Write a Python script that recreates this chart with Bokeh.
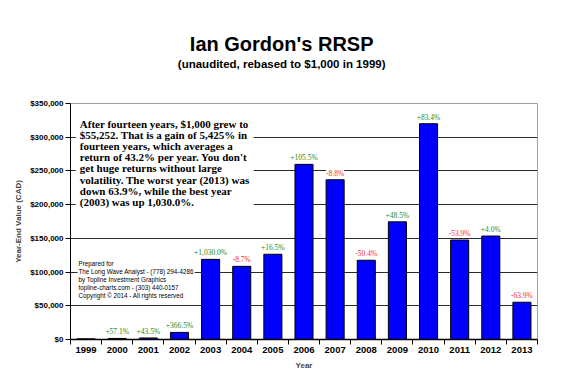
from bokeh.plotting import figure
from bokeh.layouts import column
from bokeh.models import (ColumnDataSource, FixedTicker, NumeralTickFormatter, Label,
                          LabelSet, Range1d)
from bokeh.core.properties import value
from bokeh.embed import file_html
from bokeh.resources import INLINE

# ---- data ----
years = ["1999", "2000", "2001", "2002", "2003", "2004", "2005", "2006",
         "2007", "2008", "2009", "2010", "2011", "2012", "2013"]
values = [1000, 1571, 2254, 10516, 118830, 108492, 126393, 259738,
          236881, 117493, 174477, 319991, 147516, 153416, 55252]
pct_labels = ["", "+57.1%", "+43.5%", "+366.5%", "+1,030.0%", "-8.7%", "+16.5%",
              "+105.5%", "-8.8%", "-50.4%", "+48.5%", "+83.4%", "-53.9%",
              "+4.0%", "-63.9%"]
y_ticks = [0, 50000, 100000, 150000, 200000, 250000, 300000, 350000]

title_text = "Ian Gordon's RRSP"
subtitle_text = "(unaudited, rebased to $1,000 in 1999)"
note_text = ("After fourteen years, $1,000 grew to\n"
             "$55,252. That is a gain of 5,425% in\n"
             "fourteen years, which averages a\n"
             "return of 43.2% per year. You don't\n"
             "get huge returns without large\n"
             "volatility. The worst year (2013) was\n"
             "down 63.9%, while the best year\n"
             "(2003) was up 1,030.0%.")
credit_text = ("Prepared for\n"
               "The Long Wave Analyst - (778) 294-4286\n"
               "by Topline Investment Graphics\n"
               "topline-charts.com - (303) 440-0157\n"
               "Copyright \u00a9 2014 - All rights reserved")

GREEN = "#1a8a1a"
RED = "#ee2a2a"
SANS = "Liberation Sans"
SERIF = "Liberation Serif"

W = 565
HEAD_H = 75

# ---- heading strip (titles) ----
head = figure(width=W, height=HEAD_H, output_backend="svg", toolbar_location=None,
              x_range=Range1d(0, W), y_range=Range1d(HEAD_H, 0),
              min_border=0, title_location=None)
head.axis.visible = False
head.grid.visible = False
head.outline_line_color = None
head.background_fill_color = "white"
head.border_fill_color = "white"
head.text(x=[255.5], y=[43], text=[title_text], text_align="center",
          text_baseline="middle", text_font=value(SANS), text_font_size="20px",
          text_font_style="bold", text_color="black")
head.text(x=[255.5], y=[63], text=[subtitle_text], text_align="center",
          text_baseline="middle", text_font=value(SANS), text_font_size="11.5px",
          text_font_style="bold", text_color="black")

# ---- main chart ----
xs = list(range(len(years)))
src = ColumnDataSource(dict(x=xs, y=values))
lab_idx = [i for i, t in enumerate(pct_labels) if t]
lab_src = ColumnDataSource(dict(
    x=[xs[i] for i in lab_idx],
    y=[values[i] for i in lab_idx],
    t=[pct_labels[i] for i in lab_idx],
    c=[RED if pct_labels[i].startswith("-") else GREEN for i in lab_idx],
))

p = figure(width=W, height=379 - HEAD_H, output_backend="svg", toolbar_location=None,
           x_range=Range1d(-0.5, len(years) - 0.5), y_range=Range1d(0, 350000),
           title_location=None,
           min_border_left=70, min_border_right=28, min_border_top=103 - HEAD_H,
           min_border_bottom=40)
p.background_fill_color = "white"
p.border_fill_color = "white"
p.outline_line_color = "#a0a0a0"
p.outline_line_width = 1

# grid
p.xgrid.visible = False
p.ygrid.ticker = FixedTicker(ticks=y_ticks)
p.ygrid.grid_line_color = "#2a2a2a"
p.ygrid.grid_line_width = 1

# bars
p.vbar(x="x", top="y", width=0.58, source=src, fill_color="#0000ff",
       line_color="black", line_width=1)

# value labels
p.add_layout(LabelSet(x="x", y="y", text="t", source=lab_src, text_color="c",
                      text_font=value(SERIF), text_font_size="7.5px",
                      text_align="center", text_baseline="bottom", y_offset=2,
                      background_fill_color="white"))

# x axis
xa = p.xaxis[0]
xa.ticker = FixedTicker(ticks=xs, minor_ticks=[i - 0.5 for i in range(len(years) + 1)])
xa.major_label_overrides = {i: y for i, y in zip(xs, years)}
xa.major_tick_out = 0
xa.major_tick_in = 0
xa.minor_tick_out = 5
xa.minor_tick_in = 0
xa.minor_tick_line_color = "black"
xa.axis_line_color = "black"
xa.axis_line_width = 1.5
xa.major_label_standoff = 2
xa.major_label_text_font = SANS
xa.major_label_text_font_style = "bold"
xa.major_label_text_font_size = "9.5px"
xa.major_label_text_color = "black"
xa.axis_label = "Year"
xa.axis_label_text_font = SANS
xa.axis_label_text_font_style = "bold"
xa.axis_label_text_font_size = "8px"
xa.axis_label_standoff = 5

# y axis
ya = p.yaxis[0]
ya.ticker = FixedTicker(ticks=y_ticks)
ya.formatter = NumeralTickFormatter(format="$0,0")
ya.major_tick_out = 5
ya.major_tick_in = 0
ya.minor_tick_out = 0
ya.minor_tick_in = 0
ya.axis_line_color = "black"
ya.major_tick_line_color = "black"
ya.major_label_standoff = 2
ya.major_label_text_font = SANS
ya.major_label_text_font_style = "bold"
ya.major_label_text_font_size = "8px"
ya.major_label_text_color = "black"
ya.axis_label = "Year-End Value (CAD)"
ya.axis_label_text_font = SANS
ya.axis_label_text_font_style = "bold"
ya.axis_label_text_font_size = "8px"
ya.axis_label_standoff = 4

# commentary box
p.add_layout(Label(x=-0.33, y=334300, text=note_text, text_align="left",
                   text_baseline="top", text_font=SERIF,
                   text_font_size="11px", text_font_style="bold",
                   text_line_height=0.925, text_color="black",
                   background_fill_color="white", padding=4))

# credits
p.add_layout(Label(x=-0.275, y=119600, text=credit_text, text_align="left",
                   text_baseline="top", text_font=SANS,
                   text_font_size="6.3px", text_line_height=1.14,
                   text_color="black", background_fill_color="white", padding=1))

layout = column(head, p, spacing=0)
open("out.html", "w").write(file_html(layout, INLINE))
